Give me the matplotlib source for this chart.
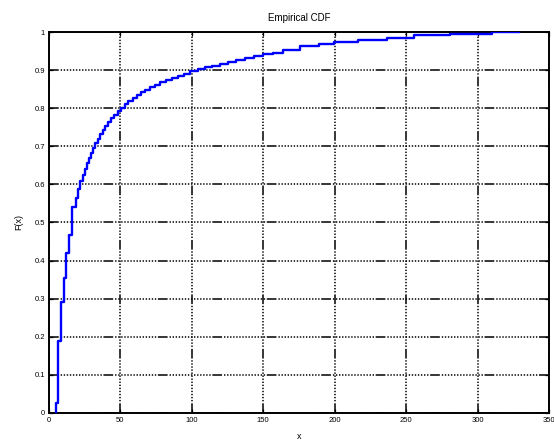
import numpy as np
import matplotlib
matplotlib.use("Agg")
import matplotlib.pyplot as plt

# sample values where the empirical CDF jumps, and the CDF level after each jump
x_jump = [4.9, 6.6, 8.7, 10.5, 11.9, 14.0, 16.1, 18.9, 20.5, 22.0,
          23.5, 25.0, 26.5, 28.0, 29.5, 31.0, 32.5, 34.0, 35.5, 37.5,
          39.5, 41.5, 43.5, 45.5, 48.0, 50.5, 53.0, 55.5, 58.5, 61.5,
          64.5, 67.5, 71.0, 74.5, 78.0, 82.0, 86.0, 90.0, 94.5, 99.0,
          104.0, 109.0, 114.0, 119.5, 125.0, 131.0, 137.0, 143.5, 150.0, 157.0,
          164.0, 176.0, 189.0, 199.5, 216.0, 236.5, 255.5, 281.0, 310.0]
f_level = [0.027, 0.19, 0.29, 0.355, 0.42, 0.467, 0.54, 0.565, 0.588, 0.608,
           0.625, 0.640, 0.655, 0.670, 0.683, 0.696, 0.708, 0.720, 0.731, 0.742,
           0.753, 0.763, 0.773, 0.782, 0.792, 0.801, 0.810, 0.818, 0.826, 0.834,
           0.842, 0.849, 0.856, 0.862, 0.868, 0.874, 0.880, 0.885, 0.891, 0.897,
           0.902, 0.907, 0.912, 0.917, 0.922, 0.927, 0.932, 0.937, 0.941, 0.946,
           0.954, 0.962, 0.968, 0.973, 0.979, 0.985, 0.991, 0.995, 1.0]
x_max = 329.0

x_ticks = [0, 50, 100, 150, 200, 250, 300, 350]
y_ticks = [0, 0.1, 0.2, 0.3, 0.4, 0.5, 0.6, 0.7, 0.8, 0.9, 1]
y_ticklabels = ["0", "0.1", "0.2", "0.3", "0.4", "0.5", "0.6", "0.7", "0.8", "0.9", "1"]

plt.rcParams["font.family"] = ["Liberation Sans", "DejaVu Sans"]
plt.rcParams["lines.scale_dashes"] = False

fig = plt.figure(figsize=(5.54, 4.47), dpi=100)
ax = fig.add_axes([0.0884, 0.0761, 0.9025, 0.8523])

# staircase: start at zero at the first jump, hold the last level to the max sample
xs = [x_jump[0]] + x_jump + [x_max]
ys = [0.0] + f_level + [f_level[-1]]
ax.step(xs, ys, where="post", color="#0000ff", linewidth=1.7, zorder=3)

ax.set_xlim(0, 350)
ax.set_ylim(0, 1)
ax.set_xticks(x_ticks)
ax.set_xticklabels([str(t) for t in x_ticks])
ax.set_yticks(y_ticks)
ax.set_yticklabels(y_ticklabels)

# grid: one longer dash followed by a run of dots
grid_dash = (0, (7.0, 1.4) + (1.0, 1.2) * 14)
ax.grid(True, color="black", linewidth=1.1, linestyle=grid_dash)

ax.tick_params(direction="in", length=3, width=0.9, labelsize=5.5,
               top=True, right=True, pad=3)
for s in ax.spines.values():
    s.set_linewidth(1.4)

ax.set_title("Empirical CDF", fontsize=7, pad=8)
ax.set_xlabel("x", fontsize=6.5, labelpad=6)
ax.set_ylabel("F(x)", fontsize=6.5, labelpad=8)

fig.savefig("out.png", dpi=100)
